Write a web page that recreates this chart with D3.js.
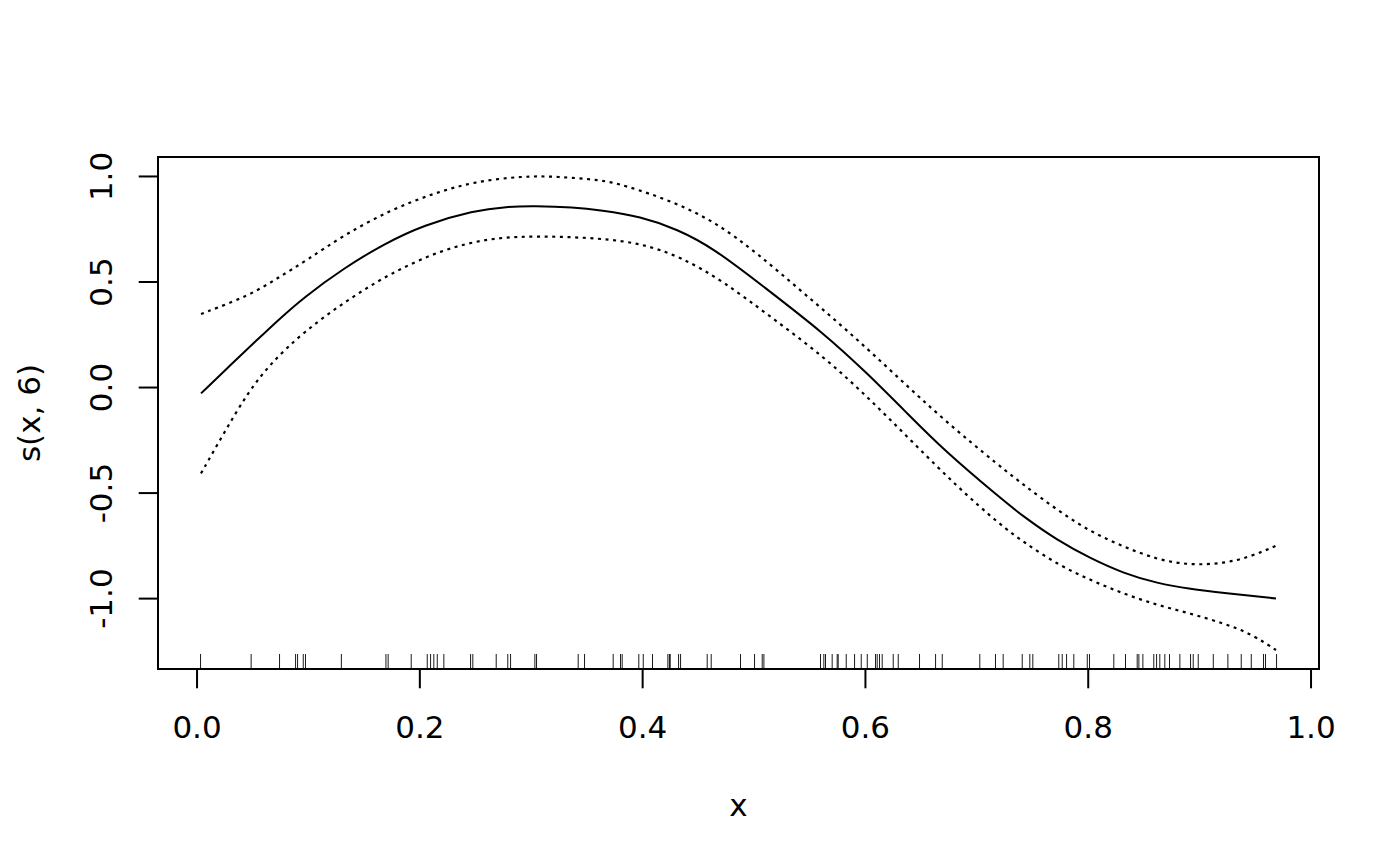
<!DOCTYPE html>
<html>
<head>
<meta charset="utf-8">
<script src="https://cdn.jsdelivr.net/npm/d3@7/dist/d3.min.js"></script>
<style>
  html, body { margin: 0; padding: 0; background: #fff; }
  svg { display: block; }
  text { font-family: "DejaVu Sans", sans-serif; fill: #000; }
</style>
</head>
<body>
<svg id="chart" width="1400" height="866"></svg>
<script>
// ---- data ----
const fitX   = [0.004, 0.0305, 0.0545, 0.0724, 0.0963, 0.1322, 0.1681, 0.2040, 0.2489, 0.2789, 0.3028, 0.3387, 0.3627, 0.3986, 0.4315, 0.4644, 0.5092, 0.5631, 0.6021, 0.6380, 0.6708, 0.7217, 0.7426, 0.7726, 0.8025, 0.8324, 0.8624, 0.8923, 0.9222, 0.969];
const fitY   = [-0.030, 0.104, 0.224, 0.313, 0.425, 0.563, 0.678, 0.768, 0.836, 0.855, 0.858, 0.852, 0.838, 0.808, 0.748, 0.657, 0.475, 0.255, 0.065, -0.125, -0.299, -0.527, -0.615, -0.726, -0.812, -0.883, -0.930, -0.957, -0.975, -1.002];

const upperX = [0.004, 0.0485, 0.0724, 0.0994, 0.1322, 0.1741, 0.2130, 0.2489, 0.2938, 0.3238, 0.3627, 0.3836, 0.4285, 0.4674, 0.5033, 0.5452, 0.5871, 0.6290, 0.6708, 0.7217, 0.7426, 0.7726, 0.8025, 0.8324, 0.8624, 0.8923, 0.9222, 0.9461, 0.969];
const upperY = [0.346, 0.436, 0.515, 0.602, 0.720, 0.839, 0.918, 0.973, 1.000, 0.997, 0.982, 0.957, 0.878, 0.776, 0.634, 0.444, 0.255, 0.049, -0.156, -0.378, -0.464, -0.583, -0.686, -0.757, -0.818, -0.844, -0.836, -0.804, -0.752];

const lowerX = [0.004, 0.0245, 0.0455, 0.0664, 0.0963, 0.1352, 0.1741, 0.2190, 0.2639, 0.3088, 0.3627, 0.3986, 0.4345, 0.4734, 0.5153, 0.5631, 0.6021, 0.6409, 0.6829, 0.7217, 0.7426, 0.7726, 0.8025, 0.8324, 0.8624, 0.8923, 0.9222, 0.9461, 0.969];
const lowerY = [-0.409, -0.219, -0.030, 0.112, 0.262, 0.412, 0.539, 0.649, 0.708, 0.716, 0.705, 0.681, 0.618, 0.499, 0.333, 0.144, -0.046, -0.251, -0.473, -0.654, -0.735, -0.840, -0.915, -0.980, -1.033, -1.073, -1.120, -1.167, -1.246];

const rugX = [0.0036, 0.049, 0.0745, 0.0889, 0.0907, 0.0958, 0.0978, 0.130, 0.170, 0.172, 0.1927, 0.2071, 0.2101, 0.2130, 0.2161, 0.2220,
  0.246, 0.248, 0.269, 0.2794, 0.2819, 0.3037, 0.3052, 0.3426, 0.3483, 0.374, 0.3806, 0.3821, 0.397, 0.401, 0.4093, 0.4231, 0.4245, 0.4252,
  0.4327, 0.4345, 0.4584, 0.462, 0.4883, 0.5009, 0.5078, 0.5093, 0.5601, 0.5631, 0.5646, 0.5706, 0.5751, 0.576, 0.5832, 0.5907, 0.5967,
  0.6021, 0.6095, 0.611, 0.6131, 0.6155, 0.6254, 0.6299, 0.649, 0.6634, 0.6694, 0.7031, 0.7172, 0.7241, 0.7412, 0.748, 0.7507, 0.774,
  0.7771, 0.781, 0.7875, 0.7996, 0.8016, 0.8234, 0.8339, 0.8444, 0.8459, 0.8495, 0.8593, 0.8618, 0.8647, 0.8692, 0.8734, 0.8827, 0.8923,
  0.8947, 0.8992, 0.9127, 0.9258, 0.9378, 0.9468, 0.9578, 0.9596, 0.9695];

const xTicks = [0.0, 0.2, 0.4, 0.6, 0.8, 1.0];
const yTicks = [-1.0, -0.5, 0.0, 0.5, 1.0];
const xLabel = "x";
const yLabel = "s(x, 6)";

// ---- layout ----
const svg = d3.select("#chart");
const L = 158, R = 1319, T = 157, B = 669;
const lineH = 38.6;

function padded(lo, hi) { const d = (hi - lo) * 0.04; return [lo - d, hi + d]; }
const xs = padded(d3.min(fitX.concat(upperX, lowerX)), d3.max(fitX.concat(upperX, lowerX)));
const ys = padded(d3.min(lowerY), d3.max(upperY));

const x = d3.scaleLinear().domain(xs).range([L, R]);
const y = d3.scaleLinear().domain(ys).range([B, T]);

const f1 = d3.format(".1f");
const fmt = v => f1(v).replace("\u2212", "-");

// curves
const line = d3.line().x(d => x(d[0])).y(d => y(d[1])).curve(d3.curveBasis);
const fit = fitX.map((v, i) => [v, fitY[i]]);
const up = upperX.map((v, i) => [v, upperY[i]]);
const lo = lowerX.map((v, i) => [v, lowerY[i]]);

const plot = svg.append("g");
plot.append("path").attr("d", line(fit)).attr("fill", "none").attr("stroke", "#000").attr("stroke-width", 2);
[up, lo].forEach(s => {
  plot.append("path").attr("d", line(s)).attr("fill", "none").attr("stroke", "#000")
    .attr("stroke-width", 2.2).attr("stroke-dasharray", "3,4.6");
});

// rug
plot.selectAll("line.rug").data(rugX).enter().append("line")
  .attr("class", "rug")
  .attr("x1", d => x(d)).attr("x2", d => x(d))
  .attr("y1", B).attr("y2", B - 15)
  .attr("stroke", "#000").attr("stroke-width", 0.9);

// box
svg.append("rect").attr("x", L).attr("y", T).attr("width", R - L).attr("height", B - T)
  .attr("fill", "none").attr("stroke", "#000").attr("stroke-width", 2);

// x axis
const xAxis = d3.axisBottom(x).tickValues(xTicks).tickFormat(fmt).tickSize(lineH * 0.5).tickPadding(0);
const gx = svg.append("g").attr("transform", `translate(0,${B})`).call(xAxis);
gx.select(".domain").attr("d", `M${x(xTicks[0])},0H${x(xTicks[xTicks.length - 1])}`).attr("stroke-width", 2);
gx.selectAll(".tick line").attr("stroke-width", 2);
gx.selectAll(".tick text").attr("y", 0).attr("dy", null)
  .attr("transform", "translate(0,69)")
  .style("font-size", "31px").style("font-family", "DejaVu Sans, sans-serif");

// y axis
const yAxis = d3.axisLeft(y).tickValues(yTicks).tickFormat(fmt).tickSize(lineH * 0.5).tickPadding(0);
const gy = svg.append("g").attr("transform", `translate(${L},0)`).call(yAxis);
gy.select(".domain").attr("d", `M0,${y(yTicks[0])}V${y(yTicks[yTicks.length - 1])}`).attr("stroke-width", 2);
gy.selectAll(".tick line").attr("stroke-width", 2);
gy.selectAll(".tick text").attr("x", 0).attr("dy", null).attr("text-anchor", "middle")
  .attr("transform", "translate(-46,0) rotate(-90)")
  .style("font-size", "31px").style("font-family", "DejaVu Sans, sans-serif");

// axis titles
svg.append("text").attr("x", (L + R) / 2).attr("y", 816).attr("text-anchor", "middle")
  .style("font-size", "31px").text(xLabel);
svg.append("text").attr("transform", `translate(40,${(T + B) / 2}) rotate(-90)`).attr("text-anchor", "middle")
  .style("font-size", "31px").text(yLabel);
</script>
</body>
</html>
